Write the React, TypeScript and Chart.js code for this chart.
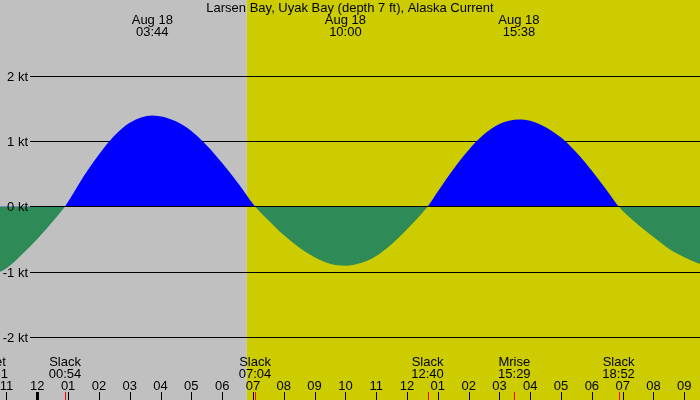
import { useEffect, useRef } from "react";
import { Chart, registerables } from "chart.js";

Chart.register(...registerables);

// chart title and day label
const chartTitle = "Larsen Bay, Uyak Bay (depth 7 ft), Alaska Current";
const dayLabel = "Aug 18";

// current speed in knots, time in hours from midnight Aug 18
const timeHours = [
  -2.5, -2, -1.5, -1, -0.5, 0, 0.5, 0.9,
  1.5, 2, 2.5, 3, 3.73, 4.5, 5, 5.5, 6, 6.5, 7.07,
  7.5, 8, 8.5, 9, 9.5, 10, 10.5, 11, 11.5, 12, 12.67,
  13, 13.5, 14, 14.5, 15, 15.63, 16, 16.5, 17, 17.5, 18, 18.5, 18.87,
  19.5, 20, 20.5, 21, 21.5, 22, 22.5, 23,
];
const speedKt = [
  -1.09, -1.1, -1.05, -0.95, -0.74, -0.5, -0.23, 0,
  0.46, 0.8, 1.09, 1.29, 1.4, 1.31, 1.16, 0.94, 0.67, 0.37, 0,
  -0.21, -0.44, -0.63, -0.78, -0.88, -0.91, -0.87, -0.76, -0.58, -0.35, 0,
  0.23, 0.57, 0.87, 1.11, 1.27, 1.34, 1.32, 1.22, 1.06, 0.83, 0.55, 0.24, 0,
  -0.28, -0.47, -0.65, -0.78, -0.88, -0.93, -0.95, -0.93,
];

// max flood / ebb labels along the top
const peakHours = [3.733, 10, 15.633];
const peakTimes = ["03:44", "10:00", "15:38"];

// slack + moon events along the bottom
const eventHours = [-1.48, 0.9, 7.067, 12.667, 15.483, 18.867];
const eventNames = ["Mset", "Slack", "Slack", "Slack", "Mrise", "Slack"];
const eventTimes = ["22:31", "00:54", "07:04", "12:40", "15:29", "18:52"];

// sunrise (end of night shading)
const sunriseHour = 6.8;

const hourTicks = [-1, 0, 1, 2, 3, 4, 5, 6, 7, 8, 9, 10, 11, 12, 13, 14, 15, 16, 17, 18, 19, 20, 21];
const hourLabels = ["11", "12", "01", "02", "03", "04", "05", "06", "07", "08", "09", "10", "11", "12", "01", "02", "03", "04", "05", "06", "07", "08", "09"];

const ktTicks = [2, 1, 0, -1, -2];
const ktLabels = ["2 kt", "1 kt", "0 kt", "-1 kt", "-2 kt"];

const FONT = '13px "Liberation Sans", Arial, sans-serif';

const tidePlugin = {
  id: "tideDecor",
  beforeDraw(chart: any) {
    const { ctx, chartArea, scales } = chart;
    const xs = scales.x;
    const sx = xs.getPixelForValue(sunriseHour);
    ctx.save();
    ctx.fillStyle = "#c0c0c0";
    ctx.fillRect(chartArea.left, chartArea.top, sx - chartArea.left, chartArea.bottom - chartArea.top);
    ctx.fillStyle = "#cccc00";
    ctx.fillRect(sx, chartArea.top, chartArea.right - sx, chartArea.bottom - chartArea.top);
    ctx.restore();
  },
  beforeDatasetsDraw(chart: any) {
    const { ctx, chartArea, scales } = chart;
    ctx.save();
    ctx.strokeStyle = "#000";
    ctx.lineWidth = 1;
    ktTicks.forEach((v) => {
      const y = Math.round(scales.y.getPixelForValue(v)) + 0.5;
      ctx.beginPath();
      ctx.moveTo(30, y);
      ctx.lineTo(chartArea.right, y);
      ctx.stroke();
    });
    ctx.restore();
  },
  afterDatasetsDraw(chart: any) {
    const { ctx, chartArea, scales } = chart;
    const xs = scales.x;
    const ys = scales.y;
    ctx.save();
    ctx.strokeStyle = "#000";
    ctx.lineWidth = 1;
    const y0 = Math.round(ys.getPixelForValue(0)) + 0.5;
    ctx.beginPath();
    ctx.moveTo(30, y0);
    ctx.lineTo(chartArea.right, y0);
    ctx.stroke();

    ctx.font = FONT;
    ctx.fillStyle = "#000";

    // y labels
    ctx.textAlign = "right";
    ctx.textBaseline = "alphabetic";
    ktTicks.forEach((v, i) => {
      ctx.fillText(ktLabels[i], 28, Math.round(ys.getPixelForValue(v)) + 5);
    });

    ctx.textAlign = "center";
    // title
    ctx.fillText(chartTitle, 350, 12);

    // peak labels
    peakHours.forEach((h, i) => {
      const x = xs.getPixelForValue(h);
      ctx.fillText(dayLabel, x, 24);
      ctx.fillText(peakTimes[i], x, 36);
    });

    // event labels
    eventHours.forEach((h, i) => {
      const x = xs.getPixelForValue(h);
      ctx.fillText(eventNames[i], x, 366);
      ctx.fillText(eventTimes[i], x, 378);
    });

    // hour ticks
    hourTicks.forEach((h, i) => {
      const x = xs.getPixelForValue(h);
      ctx.fillText(hourLabels[i], x, 390);
      if (h === 0) {
        ctx.fillRect(Math.round(x) - 1, 392, 3, 8);
      } else {
        ctx.fillRect(Math.round(x), 392, 1, 8);
      }
    });

    ctx.fillStyle = "#ff0000";
    eventHours.forEach((h) => {
      const x = xs.getPixelForValue(h);
      ctx.fillRect(Math.round(x), 392, 1, 8);
    });
    ctx.restore();
  },
};

export default function App() {
  const canvasRef = useRef<HTMLCanvasElement>(null);
  const chartRef = useRef<Chart | null>(null);

  useEffect(() => {
    document.body.style.margin = "0";
    if (!canvasRef.current) return;
    const ctx = canvasRef.current.getContext("2d");
    if (!ctx) return;
    if (chartRef.current) chartRef.current.destroy();

    const pxPerHour = 647 / 21;
    const zeroY = 206.5;
    const pxPerKt = 65;

    chartRef.current = new Chart(ctx, {
      type: "line",
      data: {
        datasets: [
          {
            data: timeHours.map((t, i) => ({ x: t, y: speedKt[i] })),
            borderWidth: 0,
            borderColor: "rgba(0,0,0,0)",
            pointRadius: 0,
            cubicInterpolationMode: "monotone",
            fill: { target: { value: 0 }, above: "#0000ff", below: "#2e8b57" },
          } as any,
        ],
      },
      options: {
        animation: false,
        responsive: false,
        events: [],
        layout: { padding: 0 },
        plugins: { legend: { display: false }, tooltip: { enabled: false } },
        scales: {
          x: { type: "linear", display: false, min: -37.3 / pxPerHour, max: (700 - 37.3) / pxPerHour },
          y: { type: "linear", display: false, min: -(400 - zeroY) / pxPerKt, max: zeroY / pxPerKt },
        },
      },
      plugins: [tidePlugin],
    });

    return () => {
      if (chartRef.current) {
        chartRef.current.destroy();
        chartRef.current = null;
      }
    };
  }, []);

  return (
    <div style={{ width: 700, height: 400 }}>
      <canvas ref={canvasRef} width={700} height={400}></canvas>
    </div>
  );
}
